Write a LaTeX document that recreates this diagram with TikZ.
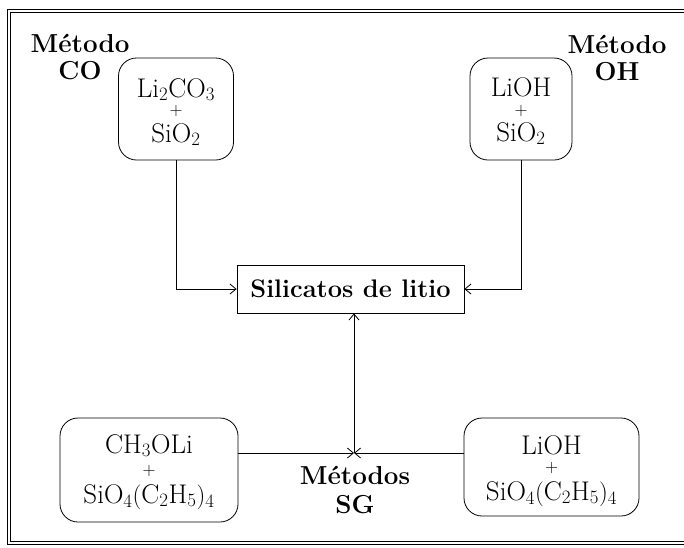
\documentclass[tikz,border=0pt]{standalone}
\usepackage{amsmath}
\usepackage{fontspec}
\usepackage{tikz}
\usetikzlibrary{positioning}
\usetikzlibrary{arrows.meta}
\usetikzlibrary{calc}

\begin{document}
\begin{tikzpicture}[x=1pt, y=-1pt, >={Straight Barb[length=6pt,width=10pt]},
  line width=0.8pt,
  reagent/.style={draw, rounded corners=18pt, inner sep=0pt},
  chem/.style={anchor=base, inner sep=0pt, font=\fontsize{27}{29}\selectfont},
  plus/.style={inner sep=0pt, font=\fontsize{18}{20}\selectfont},
  product/.style={draw, align=center, inner sep=0pt,
    font=\bfseries\fontsize{25.4}{28}\selectfont},
  method/.style={align=center, inner sep=0pt,
    font=\bfseries\fontsize{26}{27}\selectfont}]
\useasboundingbox (0,0) rectangle (684,547);

% frame (open on the right, it runs off the page)
\draw [double, double distance=2.4pt, line width=0.9pt] (700,11) -- (9,11) -- (9,543) -- (700,543);

\node [product, minimum width=227pt, minimum height=48pt] (lit) at (350.5,289) {Silicatos de litio};

% Li2CO3 + SiO2
\node [reagent, minimum width=115pt, minimum height=102pt] (co) at (176,109) {};
\node [chem] (co1) at ($(co.center)+(0,-12)$) {$\mathrm{Li_2CO_3}$};
\node [plus] (co2) at ($(co.center)+(0,2)$) {+};
\node [chem] (co3) at ($(co.center)+(0,33)$) {$\mathrm{SiO_2}$};

% LiOH + SiO2
\node [reagent, minimum width=102pt, minimum height=102pt] (oh) at (521,109) {};
\node [chem] (oh1) at ($(oh.center)+(0,-13)$) {LiOH};
\node [plus] (oh2) at ($(oh.center)+(0,2)$) {+};
\node [chem] (oh3) at ($(oh.center)+(0,32)$) {$\mathrm{SiO_2}$};

% CH3OLi + SiO4(C2H5)4
\node [reagent, minimum width=178pt, minimum height=104pt] (sgl) at (149,470) {};
\node [chem] (sgl1) at ($(sgl.center)+(0,-17)$) {$\mathrm{CH_3OLi}$};
\node [plus] (sgl2) at ($(sgl.center)+(0,1)$) {+};
\node [chem] (sgl3) at ($(sgl.center)+(0,33)$) {$\mathrm{SiO_4(C_2H_5)_4}$};

% LiOH + SiO4(C2H5)4
\node [reagent, minimum width=175pt, minimum height=98pt] (sgr) at (551.5,467) {};
\node [chem] (sgr1) at ($(sgr.center)+(0,-13)$) {LiOH};
\node [plus] (sgr2) at ($(sgr.center)+(0,1)$) {+};
\node [chem] (sgr3) at ($(sgr.center)+(0,33)$) {$\mathrm{SiO_4(C_2H_5)_4}$};

\coordinate (sg) at (354,453);

% labels
\node [method] (mco) at (80,57) {Método\\CO};
\node [method] (moh) at (617,58) {Método\\OH};
\node [method] (msg) at (355,490) {Métodos\\[2pt]SG};

% connectors
\draw [->] (co) |- (lit);
\draw [->] (oh) |- (lit);
\draw [->] (sg -| sgl.east) -- (sg);
\draw [->] (sg -| sgr.west) -- (sg);
\draw [->] (sg) -- (sg |- lit.south);

\end{tikzpicture}
\end{document}
